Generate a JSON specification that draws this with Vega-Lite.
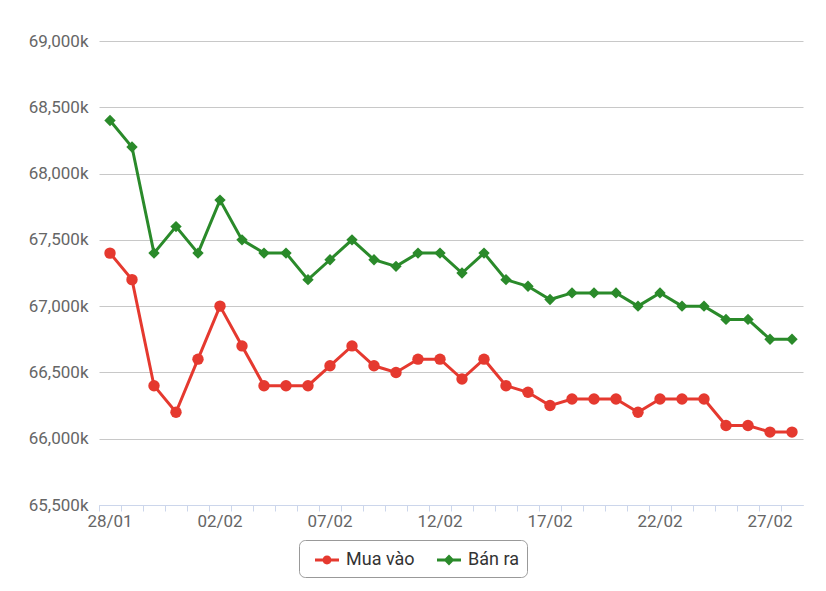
{
  "$schema": "https://vega.github.io/schema/vega-lite/v6.json",
  "autosize": "none",
  "width": 704,
  "height": 464,
  "padding": {"left": 99, "top": 41, "right": 23, "bottom": 86},
  "background": "white",
  "config": {
    "view": {"stroke": null},
    "font": "Roboto"
  },
  "data": {"values": [
    {"date": "28/01", "series": "Mua vào", "value": 67400},
    {"date": "29/01", "series": "Mua vào", "value": 67200},
    {"date": "30/01", "series": "Mua vào", "value": 66400},
    {"date": "31/01", "series": "Mua vào", "value": 66200},
    {"date": "01/02", "series": "Mua vào", "value": 66600},
    {"date": "02/02", "series": "Mua vào", "value": 67000},
    {"date": "03/02", "series": "Mua vào", "value": 66700},
    {"date": "04/02", "series": "Mua vào", "value": 66400},
    {"date": "05/02", "series": "Mua vào", "value": 66400},
    {"date": "06/02", "series": "Mua vào", "value": 66400},
    {"date": "07/02", "series": "Mua vào", "value": 66550},
    {"date": "08/02", "series": "Mua vào", "value": 66700},
    {"date": "09/02", "series": "Mua vào", "value": 66550},
    {"date": "10/02", "series": "Mua vào", "value": 66500},
    {"date": "11/02", "series": "Mua vào", "value": 66600},
    {"date": "12/02", "series": "Mua vào", "value": 66600},
    {"date": "13/02", "series": "Mua vào", "value": 66450},
    {"date": "14/02", "series": "Mua vào", "value": 66600},
    {"date": "15/02", "series": "Mua vào", "value": 66400},
    {"date": "16/02", "series": "Mua vào", "value": 66350},
    {"date": "17/02", "series": "Mua vào", "value": 66250},
    {"date": "18/02", "series": "Mua vào", "value": 66300},
    {"date": "19/02", "series": "Mua vào", "value": 66300},
    {"date": "20/02", "series": "Mua vào", "value": 66300},
    {"date": "21/02", "series": "Mua vào", "value": 66200},
    {"date": "22/02", "series": "Mua vào", "value": 66300},
    {"date": "23/02", "series": "Mua vào", "value": 66300},
    {"date": "24/02", "series": "Mua vào", "value": 66300},
    {"date": "25/02", "series": "Mua vào", "value": 66100},
    {"date": "26/02", "series": "Mua vào", "value": 66100},
    {"date": "27/02", "series": "Mua vào", "value": 66050},
    {"date": "28/02", "series": "Mua vào", "value": 66050},
    {"date": "28/01", "series": "Bán ra", "value": 68400},
    {"date": "29/01", "series": "Bán ra", "value": 68200},
    {"date": "30/01", "series": "Bán ra", "value": 67400},
    {"date": "31/01", "series": "Bán ra", "value": 67600},
    {"date": "01/02", "series": "Bán ra", "value": 67400},
    {"date": "02/02", "series": "Bán ra", "value": 67800},
    {"date": "03/02", "series": "Bán ra", "value": 67500},
    {"date": "04/02", "series": "Bán ra", "value": 67400},
    {"date": "05/02", "series": "Bán ra", "value": 67400},
    {"date": "06/02", "series": "Bán ra", "value": 67200},
    {"date": "07/02", "series": "Bán ra", "value": 67350},
    {"date": "08/02", "series": "Bán ra", "value": 67500},
    {"date": "09/02", "series": "Bán ra", "value": 67350},
    {"date": "10/02", "series": "Bán ra", "value": 67300},
    {"date": "11/02", "series": "Bán ra", "value": 67400},
    {"date": "12/02", "series": "Bán ra", "value": 67400},
    {"date": "13/02", "series": "Bán ra", "value": 67250},
    {"date": "14/02", "series": "Bán ra", "value": 67400},
    {"date": "15/02", "series": "Bán ra", "value": 67200},
    {"date": "16/02", "series": "Bán ra", "value": 67150},
    {"date": "17/02", "series": "Bán ra", "value": 67050},
    {"date": "18/02", "series": "Bán ra", "value": 67100},
    {"date": "19/02", "series": "Bán ra", "value": 67100},
    {"date": "20/02", "series": "Bán ra", "value": 67100},
    {"date": "21/02", "series": "Bán ra", "value": 67000},
    {"date": "22/02", "series": "Bán ra", "value": 67100},
    {"date": "23/02", "series": "Bán ra", "value": 67000},
    {"date": "24/02", "series": "Bán ra", "value": 67000},
    {"date": "25/02", "series": "Bán ra", "value": 66900},
    {"date": "26/02", "series": "Bán ra", "value": 66900},
    {"date": "27/02", "series": "Bán ra", "value": 66750},
    {"date": "28/02", "series": "Bán ra", "value": 66750}
  ]},
  "encoding": {
    "x": {
      "field": "date", "type": "ordinal", "sort": null,
      "scale": {"type": "band", "paddingInner": 0, "paddingOuter": 0},
      "axis": {
        "title": null, "labelAngle": 0, "bandPosition": 0, "labelOffset": 0,
        "labelExpr": "indexof(['28/01','02/02','07/02','12/02','17/02','22/02','27/02'], datum.label) >= 0 ? datum.label : ''",
        "labelOverlap": false, "labelBound": false, "labelFlush": false,
        "labelFontSize": 17, "labelColor": "#666666", "labelPadding": 2,
        "domainColor": "#ccd6eb", "tickColor": "#ccd6eb", "tickSize": 6,
        "grid": false
      }
    },
    "y": {
      "field": "value", "type": "quantitative",
      "scale": {"domain": [65500, 69000], "nice": false, "zero": false},
      "axis": {
        "title": null,
        "values": [65500, 66000, 66500, 67000, 67500, 68000, 68500, 69000],
        "labelExpr": "format(datum.value, ',') + 'k'",
        "labelFontSize": 17, "labelColor": "#666666", "labelPadding": 11,
        "ticks": false, "domain": false,
        "grid": true, "gridColor": "#c8c8c8", "gridWidth": 1
      }
    },
    "color": {
      "field": "series", "type": "nominal", "sort": ["Mua vào", "Bán ra"],
      "scale": {"domain": ["Mua vào", "Bán ra"], "range": ["#e5392f", "#2a8a2a"]},
      "legend": {
        "title": null, "orient": "none", "legendX": 200, "legendY": 499,
        "direction": "horizontal",
        "symbolSize": 576, "symbolOpacity": 1, "symbolStrokeWidth": 0,
        "symbolOffset": 8,
        "labelFontSize": 18, "labelColor": "#333333", "labelOffset": 7,
        "columnPadding": 14, "padding": 8,
        "strokeColor": "#999999", "cornerRadius": 6
      }
    }
  },
  "layer": [
    {
      "mark": {"type": "line", "strokeWidth": 3}
    },
    {
      "mark": {"type": "point", "filled": true, "opacity": 1, "size": 130},
      "encoding": {
        "shape": {
          "condition": {"test": "datum.series === 'Mua vào'", "value": "circle"},
          "value": "diamond"
        }
      }
    },
    {
      "mark": {"type": "point", "filled": true, "opacity": 0},
      "encoding": {
        "shape": {
          "field": "series", "type": "nominal", "sort": ["Mua vào", "Bán ra"],
          "scale": {
            "domain": ["Mua vào", "Bán ra"],
            "range": [
              "M-1,-0.125H1V0.125H-1Z M0.37,0A0.37,0.37 0 1,1 -0.37,0A0.37,0.37 0 1,1 0.37,0Z",
              "M-1,-0.125H1V0.125H-1Z M0,-0.45L0.45,0L0,0.45L-0.45,0Z"
            ]
          },
          "legend": {
            "title": null, "orient": "none", "legendX": 200, "legendY": 499,
            "direction": "horizontal",
            "symbolSize": 576, "symbolOpacity": 1, "symbolStrokeWidth": 0,
            "symbolOffset": 8,
            "labelFontSize": 18, "labelColor": "#333333", "labelOffset": 7,
            "columnPadding": 14, "padding": 8,
            "strokeColor": "#999999", "cornerRadius": 6
          }
        }
      }
    }
  ]
}
